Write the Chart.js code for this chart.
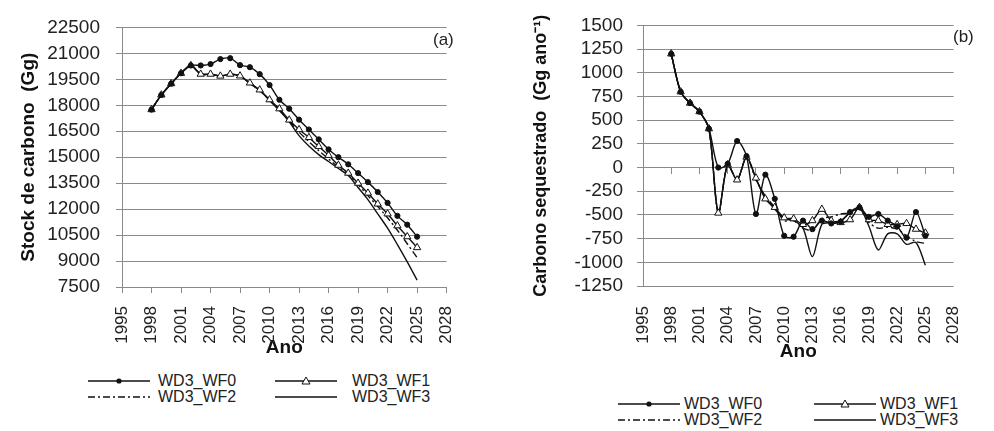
<!DOCTYPE html>
<html>
<head>
<meta charset="utf-8">
<script src="https://cdn.jsdelivr.net/npm/chart.js@4.4.1/dist/chart.umd.min.js"></script>
<style>
  body { margin: 0; background: #fff; width: 994px; height: 431px; position: relative; overflow: hidden;
         font-family: "Liberation Sans", Arial, sans-serif; color: #222; }
  .box { position: absolute; }
  .leg { position: absolute; font-size: 16px; line-height: 16px; white-space: nowrap; }
  .leg svg { position: absolute; top: -8px; }
  .tag { position: absolute; font-size: 17px; }
</style>
</head>
<body>
<div class="box" style="left:0;top:0;width:480px;height:365px"><canvas id="chartA"></canvas></div>
<div class="box" style="left:500px;top:0;width:494px;height:370px"><canvas id="chartB"></canvas></div>
<div class="tag" style="left:433px;top:30px">(a)</div>
<div class="tag" style="left:953px;top:27px">(b)</div>
<div id="legends"></div>

<script>
// years shown on both panels
const years = [1998, 1999, 2000, 2001, 2002, 2003, 2004, 2005, 2006, 2007, 2008, 2009, 2010, 2011,
               2012, 2013, 2014, 2015, 2016, 2017, 2018, 2019, 2020, 2021, 2022, 2023, 2024, 2025];

const seriesNames = ['WD3_WF0', 'WD3_WF1', 'WD3_WF2', 'WD3_WF3'];

// (a) Stock de carbono (Gg)
const stockWF0 = [17750, 18600, 19250, 19850, 20300, 20300, 20380, 20670, 20720, 20320, 20200, 19800, 19170, 18320,
                  17800, 17170, 16600, 16030, 15450, 15000, 14590, 14080, 13560, 12990, 12360, 11610, 11100, 10410];
const stockWF1 = [17750, 18600, 19250, 19850, 20300, 19800, 19800, 19690, 19800, 19700, 19290, 18890, 18320, 17800,
                  17150, 16600, 16140, 15620, 15110, 14540, 14080, 13500, 12930, 12300, 11730, 11040, 10410, 9780];
const stockWF2 = [17750, 18600, 19250, 19850, 20300, 19800, 19800, 19690, 19800, 19680, 19280, 18860, 18300, 17750,
                  17100, 16450, 15900, 15380, 14900, 14430, 14000, 13420, 12780, 12150, 11500, 10780, 10000, 9200];
const stockWF3 = [17750, 18600, 19250, 19850, 20300, 19800, 19800, 19690, 19800, 19680, 19260, 18850, 18280, 17700,
                  17050, 16250, 15650, 15150, 14750, 14350, 13950, 13250, 12550, 11730, 10900, 9950, 8950, 7900];

// (b) Carbono sequestrado (Gg ano-1)
const seqWF0 = [1200, 800, 680, 590, 410, 0, 40, 280, 120, -490, -75, -330, -720, -730,
                -560, -650, -560, -590, -570, -470, -420, -520, -490, -560, -620, -740, -470, -720];
const seqWF1 = [1200, 800, 680, 590, 410, -480, 30, -130, 110, -110, -330, -420, -530, -540,
                -600, -560, -440, -560, -580, -550, -420, -550, -560, -600, -600, -590, -650, -690];
const seqWF2 = [1200, 800, 680, 590, 410, -480, 30, -130, 110, -130, -300, -420, -560, -560,
                -640, -660, -540, -520, -490, -480, -440, -580, -640, -630, -650, -720, -780, -800];
const seqWF3 = [1200, 800, 680, 590, 410, -480, 30, -130, 110, -120, -320, -440, -540, -560,
                -640, -940, -600, -580, -560, -480, -430, -620, -870, -700, -700, -810, -790, -1030];

const yearTicksMin = 1995, yearTicksMax = 2028, yearStep = 3;
const stockMin = 7500, stockMax = 22500, stockStep = 1500;
const seqMin = -1250, seqMax = 1500, seqStep = 250;

// ── shared styling ─────────────────────────────────────────
const INK = '#111';
const GRID = '#8a8a8a';
const FONT = '"Liberation Sans", Arial, sans-serif';

const styles = [
  { pointStyle: 'circle',   pointRadius: 2.6, pointBackgroundColor: INK,    borderDash: [] },
  { pointStyle: 'triangle', pointRadius: 4.2, pointBackgroundColor: '#fff', borderDash: [] },
  { pointStyle: 'circle',   pointRadius: 0,   pointBackgroundColor: INK,    borderDash: [7, 3, 2, 3] },
  { pointStyle: 'circle',   pointRadius: 0,   pointBackgroundColor: INK,    borderDash: [] },
];

function makeDatasets(seriesList) {
  return seriesList.map((vals, i) => ({
    label: seriesNames[i],
    data: years.map((yr, k) => ({ x: yr, y: vals[k] })),
    borderColor: INK,
    borderWidth: 1.4,
    pointBorderColor: INK,
    pointBorderWidth: 1,
    tension: 0.3,
    order: i,   // WF0 on top
    ...styles[i],
  }));
}

const noComma = v => String(v);

// ── (a) Stock ──────────────────────────────────────────────
new Chart(document.getElementById('chartA'), {
  type: 'line',
  data: { datasets: makeDatasets([stockWF0, stockWF1, stockWF2, stockWF3]) },
  options: {
    responsive: true,
    maintainAspectRatio: false,
    animation: false,
    layout: { padding: { left: 0, top: 25, right: 18, bottom: 0 } },
    plugins: { legend: { display: false }, tooltip: { enabled: false } },
    scales: {
      x: {
        type: 'linear', min: yearTicksMin, max: yearTicksMax,
        afterFit: s => { s.height = 78; },
        ticks: { stepSize: yearStep, minRotation: 90, maxRotation: 90, padding: 13, autoSkip: false,
                 color: '#222', font: { family: FONT, size: 17 }, callback: noComma },
        grid: { drawOnChartArea: false, drawTicks: true, tickLength: 6, color: GRID },
        border: { display: true, color: GRID },
        title: { display: true, text: 'Ano', color: '#111', padding: { top: 0, bottom: 6 },
                 font: { family: FONT, size: 19, weight: 'bold' } },
      },
      y: {
        min: stockMin, max: stockMax,
        afterFit: s => { s.width = 122; },
        ticks: { stepSize: stockStep, padding: 16, autoSkip: false, color: '#222',
                 font: { family: FONT, size: 19 }, callback: noComma },
        grid: { color: GRID, tickLength: 6 },
        border: { display: true, color: GRID },
        title: { display: true, text: 'Stock de carbono  (Gg)', color: '#111', padding: { top: 17, bottom: 0 },
                 font: { family: FONT, size: 19, weight: 'bold' } },
      }
    }
  }
});

// ── (b) Sequestro ──────────────────────────────────────────
new Chart(document.getElementById('chartB'), {
  type: 'line',
  data: { datasets: makeDatasets([seqWF0, seqWF1, seqWF2, seqWF3]) },
  options: {
    responsive: true,
    maintainAspectRatio: false,
    animation: false,
    layout: { padding: { left: 0, top: 23, right: 11, bottom: 0 } },
    plugins: { legend: { display: false }, tooltip: { enabled: false } },
    scales: {
      x: {
        type: 'linear', min: yearTicksMin, max: yearTicksMax,
        afterFit: s => { s.height = 84; },
        ticks: { stepSize: yearStep, minRotation: 90, maxRotation: 90, padding: 20, autoSkip: false,
                 color: '#222', font: { family: FONT, size: 17 }, callback: noComma },
        grid: { display: false, drawTicks: false },
        border: { display: false },
        title: { display: true, text: 'Ano', color: '#111', padding: { top: 0, bottom: 7 },
                 font: { family: FONT, size: 19, weight: 'bold' } },
      },
      // horizontal axis line crossing at zero, tick marks only
      x0: {
        type: 'linear', min: yearTicksMin, max: yearTicksMax,
        position: { y: 0 },
        ticks: { stepSize: yearStep, display: false },
        grid: { drawOnChartArea: false, drawTicks: true, tickLength: 6, color: GRID },
        border: { display: true, color: GRID },
      },
      y: {
        min: seqMin, max: seqMax,
        afterFit: s => { s.width = 143; },
        ticks: { stepSize: seqStep, padding: 14, autoSkip: false, color: '#222',
                 font: { family: FONT, size: 19 }, callback: noComma },
        grid: { color: GRID, tickLength: 6 },
        border: { display: true, color: GRID },
        title: { display: true, text: 'Carbono sequestrado  (Gg ano\u207B\u00B9)', color: '#111',
                 padding: { top: 30, bottom: 0 }, font: { family: FONT, size: 18, weight: 'bold' } },
      }
    }
  }
});

// ── legends (2 x 2) ────────────────────────────────────────
function sampleSvg(i) {
  const s = styles[i];
  const dash = s.borderDash.length ? `stroke-dasharray="${s.borderDash.join(',')}"` : '';
  let mark = '';
  if (i === 0) mark = `<circle cx="31" cy="8" r="2.6" fill="${INK}"/>`;
  if (i === 1) mark = `<polygon points="31,4 35,11 27,11" fill="#fff" stroke="${INK}" stroke-width="1"/>`;
  return `<svg width="62" height="16"><line x1="0" y1="8" x2="62" y2="8" stroke="${INK}" stroke-width="1.4" ${dash}/>${mark}</svg>`;
}

function buildLegend(cols, rows) {
  const host = document.getElementById('legends');
  seriesNames.forEach((name, i) => {
    const c = cols[i % 2], top = rows[Math.floor(i / 2)];
    host.insertAdjacentHTML('beforeend', `
      <div class="leg" style="left:${c.line}px;top:${top}px">
        <span style="position:absolute;left:0;top:0">${sampleSvg(i)}</span>
        <span style="position:absolute;left:${c.text - c.line}px;top:-8px">${name}</span>
      </div>`);
  });
}

buildLegend([{ line: 88, text: 158 }, { line: 275, text: 352 }], [381, 397]);
buildLegend([{ line: 618, text: 684 }, { line: 814, text: 880 }], [404, 420]);
</script>
</body>
</html>
